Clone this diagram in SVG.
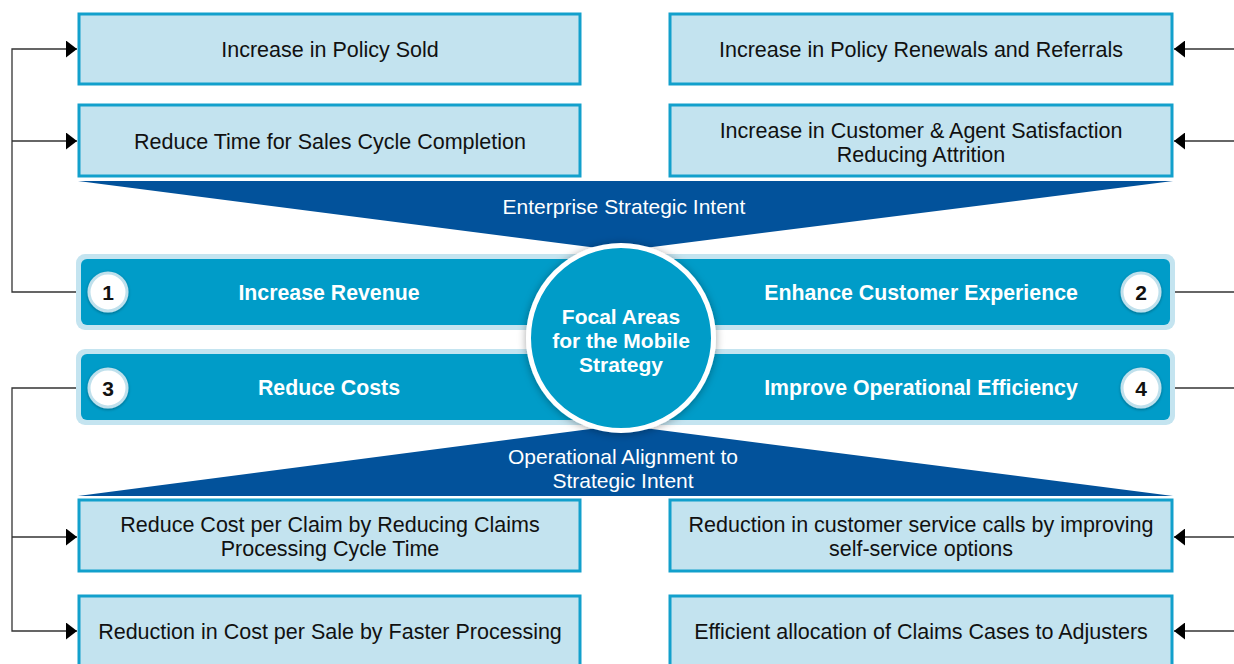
<svg xmlns="http://www.w3.org/2000/svg" width="1234" height="664" viewBox="0 0 1234 664">
<defs>
<style>
.box{fill:#c3e3ef;stroke:#12a0cc;stroke-width:3}
.bt{font-family:"Liberation Sans",Arial,sans-serif;font-size:21.5px;fill:#111;text-anchor:middle}
.wt{font-family:"Liberation Sans",Arial,sans-serif;font-size:21px;fill:#fff;text-anchor:middle}
.wb{font-family:"Liberation Sans",Arial,sans-serif;font-size:21.3px;font-weight:bold;fill:#fff;text-anchor:middle}
.cb{font-family:"Liberation Sans",Arial,sans-serif;font-size:21px;font-weight:bold;fill:#fff;text-anchor:middle}
.nb{font-family:"Liberation Sans",Arial,sans-serif;font-size:21px;font-weight:bold;fill:#111;text-anchor:middle}
.barO{fill:#c4e4f0}
.barI{fill:#009cc8}
.fun{fill:#02529b}
.badge{fill:#fff;stroke:#bfe0ec;stroke-width:3}
.con{fill:none;stroke:#333;stroke-width:1.3}
.arr{marker-end:url(#ah)}
</style>
<marker id="ah" markerUnits="userSpaceOnUse" viewBox="0 0 11 17" refX="11" refY="8.5" markerWidth="11" markerHeight="17" orient="auto">
<path d="M0,0 L11,8.5 L0,17 z" fill="#000"/>
</marker>
<filter id="sh" x="-20%" y="-20%" width="140%" height="140%">
<feDropShadow dx="0" dy="1" stdDeviation="4" flood-color="#000" flood-opacity="0.35"/>
</filter>
<filter id="sh2" x="-40%" y="-40%" width="180%" height="180%">
<feDropShadow dx="0" dy="1" stdDeviation="1.5" flood-color="#000" flood-opacity="0.35"/>
</filter>
</defs>
<rect width="1234" height="664" fill="#fff"/>

<g id="funnel-top">
<path class="fun" d="M78,181 L1173,181 L621,251 Z"/>
<text class="wt" x="624" y="214">Enterprise Strategic Intent</text>
</g>
<g id="funnel-bottom">
<path class="fun" d="M78,496 L1173,496 L621,425 Z"/>
<text class="wt" x="623" y="463.5">Operational Alignment to</text>
<text class="wt" x="623" y="487.5">Strategic Intent</text>
</g>

<g id="connectors">
<path class="con arr" d="M78,292 H12 V49 H77"/>
<path class="con arr" d="M12,141 H77"/>
<path class="con arr" d="M78,388 H12 V631 H77"/>
<path class="con arr" d="M12,537 H77"/>
<path class="con" d="M1175,292 H1234"/>
<path class="con" d="M1175,388 H1234"/>
<path class="con arr" d="M1234,49 H1174"/>
<path class="con arr" d="M1234,141 H1174"/>
<path class="con arr" d="M1234,537 H1174"/>
<path class="con arr" d="M1234,631 H1174"/>
</g>

<g id="box-policy-sold">
<rect class="box" x="79" y="14" width="501" height="70"/>
<text class="bt" x="330" y="57">Increase in Policy Sold</text>
</g>
<g id="box-sales-cycle">
<rect class="box" x="79" y="105" width="501" height="71"/>
<text class="bt" x="330" y="149">Reduce Time for Sales Cycle Completion</text>
</g>
<g id="box-renewals">
<rect class="box" x="670" y="14" width="502" height="70"/>
<text class="bt" x="921" y="57">Increase in Policy Renewals and Referrals</text>
</g>
<g id="box-satisfaction">
<rect class="box" x="670" y="105" width="502" height="71"/>
<text class="bt" x="921" y="138">Increase in Customer &amp; Agent Satisfaction</text>
<text class="bt" x="921" y="162">Reducing Attrition</text>
</g>
<g id="box-cost-claim">
<rect class="box" x="79" y="500" width="501" height="71"/>
<text class="bt" x="330" y="532">Reduce Cost per Claim by Reducing Claims</text>
<text class="bt" x="330" y="556">Processing Cycle Time</text>
</g>
<g id="box-service-calls">
<rect class="box" x="670" y="500" width="502" height="71"/>
<text class="bt" x="921" y="532">Reduction in customer service calls by improving</text>
<text class="bt" x="921" y="556">self-service options</text>
</g>
<g id="box-cost-sale">
<rect class="box" x="79" y="596" width="501" height="72"/>
<text class="bt" x="330" y="639">Reduction in Cost per Sale by Faster Processing</text>
</g>
<g id="box-claims-allocation">
<rect class="box" x="670" y="596" width="502" height="72"/>
<text class="bt" x="921" y="639">Efficient allocation of Claims Cases to Adjusters</text>
</g>

<g id="bar-top">
<rect class="barO" x="76" y="254" width="1099" height="76" rx="9"/>
<rect class="barI" x="81" y="259" width="1089" height="66" rx="6"/>
</g>
<g id="bar-bottom">
<rect class="barO" x="76" y="349" width="1099" height="76" rx="9"/>
<rect class="barI" x="81" y="354" width="1089" height="66" rx="6"/>
</g>

<g id="area-1">
<circle class="badge" cx="108" cy="292" r="19" filter="url(#sh2)"/>
<text class="nb" x="108" y="299.5">1</text>
<text class="wb" x="329" y="300">Increase Revenue</text>
</g>
<g id="area-2">
<circle class="badge" cx="1141" cy="292" r="19" filter="url(#sh2)"/>
<text class="nb" x="1141" y="299.5">2</text>
<text class="wb" x="921" y="300">Enhance Customer Experience</text>
</g>
<g id="area-3">
<circle class="badge" cx="108" cy="388" r="19" filter="url(#sh2)"/>
<text class="nb" x="108" y="395.5">3</text>
<text class="wb" x="329" y="395">Reduce Costs</text>
</g>
<g id="area-4">
<circle class="badge" cx="1141" cy="388" r="19" filter="url(#sh2)"/>
<text class="nb" x="1141" y="395.5">4</text>
<text class="wb" x="921" y="395">Improve Operational Efficiency</text>
</g>

<g id="focal-circle">
<circle cx="621" cy="338" r="92.5" fill="#009cc8" stroke="#fff" stroke-width="5" filter="url(#sh)"/>
<text class="cb" x="621" y="324">Focal Areas</text>
<text class="cb" x="621" y="348">for the Mobile</text>
<text class="cb" x="621" y="372">Strategy</text>
</g>
</svg>
